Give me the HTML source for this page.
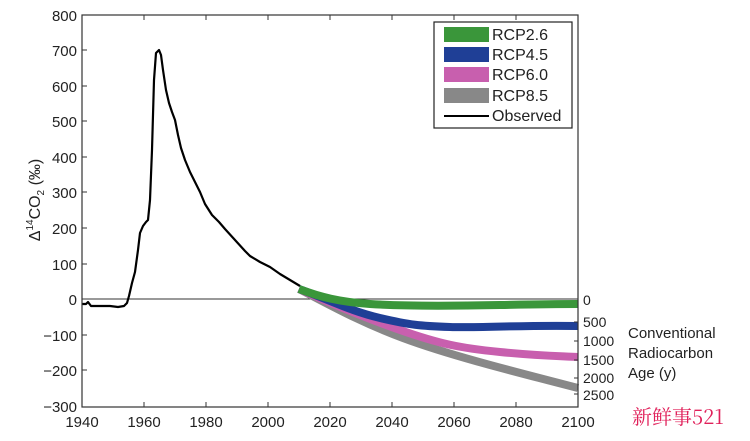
<!DOCTYPE html>
<html><head><meta charset="utf-8"><style>
body{margin:0;background:#fff;}
svg{display:block;font-family:"Liberation Sans",Arial,sans-serif;}
</style></head><body>
<svg width="750" height="441" viewBox="0 0 750 441">
<rect width="750" height="441" fill="#fff"/>
<line x1="82" y1="299" x2="578" y2="299" stroke="#333" stroke-width="1"/>
<g fill="none" stroke-linecap="butt" stroke-width="8">
<path stroke="#888" d="M299,289 C330,305 360,322 403,338 S500,368 578,388"/>
<path stroke="#c85fae" d="M299,289 C330,303 360,316 400,330 S460,348 500,352 S560,356 578,357"/>
<path stroke="#1f3f96" d="M299,289 C330,300 350,311 380,318 S420,326 450,327 S520,325 578,326"/>
<path stroke="#3a963a" d="M299,289 C320,297 340,302 370,304 S450,306 500,305 S560,304 578,304"/>
</g>
<polyline fill="none" stroke="#000" stroke-width="2.2" stroke-linejoin="round" points="
82,304 86,304 88,302 91,306 100,306 110,306 118,307 124,306 127,303 129,296 132,283 135,272 138,250 140,233 143,226 146,222 148,220 150,200 152,150 154,80 156,53 159,50 161,55 163,70 166,90 169,103 172,112 175,120 178,135 181,148 185,160 190,172 195,182 200,192 205,204 212,215 219,222 225,229 235,240 245,251 250,256 260,262 270,267 280,274 290,280 300,286"/>
<rect x="82" y="15" width="496" height="392" fill="none" stroke="#333" stroke-width="1.2"/>
<g stroke="#333" stroke-width="1">
<line x1="144" y1="407" x2="144" y2="402"/><line x1="206" y1="407" x2="206" y2="402"/><line x1="268" y1="407" x2="268" y2="402"/><line x1="330" y1="407" x2="330" y2="402"/><line x1="392" y1="407" x2="392" y2="402"/><line x1="454" y1="407" x2="454" y2="402"/><line x1="516" y1="407" x2="516" y2="402"/>
<line x1="144" y1="15" x2="144" y2="20"/><line x1="206" y1="15" x2="206" y2="20"/><line x1="268" y1="15" x2="268" y2="20"/><line x1="330" y1="15" x2="330" y2="20"/><line x1="392" y1="15" x2="392" y2="20"/><line x1="454" y1="15" x2="454" y2="20"/><line x1="516" y1="15" x2="516" y2="20"/>
<line x1="82" y1="50" x2="87" y2="50"/><line x1="82" y1="86" x2="87" y2="86"/><line x1="82" y1="121" x2="87" y2="121"/><line x1="82" y1="157" x2="87" y2="157"/><line x1="82" y1="192" x2="87" y2="192"/><line x1="82" y1="228" x2="87" y2="228"/><line x1="82" y1="264" x2="87" y2="264"/><line x1="82" y1="335" x2="87" y2="335"/><line x1="82" y1="370" x2="87" y2="370"/>
<line x1="578" y1="322" x2="574" y2="322"/><line x1="578" y1="341" x2="574" y2="341"/><line x1="578" y1="360" x2="574" y2="360"/><line x1="578" y1="378" x2="574" y2="378"/><line x1="578" y1="394" x2="574" y2="394"/>
</g>
<g font-size="15" fill="#222" text-anchor="end">
<text x="77" y="21">800</text><text x="77" y="56">700</text><text x="77" y="92">600</text><text x="77" y="127">500</text><text x="77" y="163">400</text><text x="77" y="198">300</text><text x="77" y="234">200</text><text x="77" y="270">100</text><text x="77" y="305">0</text><text x="77" y="341">−100</text><text x="77" y="376">−200</text><text x="77" y="412">−300</text>
</g>
<g font-size="15" fill="#222" text-anchor="middle">
<text x="82" y="427">1940</text><text x="144" y="427">1960</text><text x="206" y="427">1980</text><text x="268" y="427">2000</text><text x="330" y="427">2020</text><text x="392" y="427">2040</text><text x="454" y="427">2060</text><text x="516" y="427">2080</text><text x="578" y="427">2100</text>
</g>
<g font-size="14" fill="#222">
<text x="583" y="305">0</text><text x="583" y="327">500</text><text x="583" y="346">1000</text><text x="583" y="365">1500</text><text x="583" y="383">2000</text><text x="583" y="400">2500</text>
<text x="628" y="338" font-size="15">Conventional</text><text x="628" y="358" font-size="15">Radiocarbon</text><text x="628" y="378" font-size="15">Age (y)</text>
</g>
<text transform="translate(40,200) rotate(-90)" font-size="16" fill="#222" text-anchor="middle">Δ<tspan font-size="10" dy="-7">14</tspan><tspan dy="7">CO</tspan><tspan font-size="10" dy="4">2</tspan><tspan dy="-4"> (‰)</tspan></text>
<rect x="434" y="22" width="138" height="106" fill="#fff" stroke="#222" stroke-width="1.2"/>
<rect x="444" y="27" width="45" height="15" fill="#3a963a"/>
<rect x="444" y="47" width="45" height="15" fill="#1f3f96"/>
<rect x="444" y="67" width="45" height="15" fill="#c85fae"/>
<rect x="444" y="88" width="45" height="15" fill="#888"/>
<line x1="444" y1="116" x2="489" y2="116" stroke="#000" stroke-width="2"/>
<g font-size="16" fill="#222">
<text x="492" y="40">RCP2.6</text><text x="492" y="60">RCP4.5</text><text x="492" y="80">RCP6.0</text><text x="492" y="101">RCP8.5</text><text x="492" y="121">Observed</text>
</g>
<text x="632" y="424" font-size="20" fill="#e0205a" font-family="'Noto Serif CJK SC','Liberation Sans',serif">新鲜事521</text>
</svg>
</body></html>
